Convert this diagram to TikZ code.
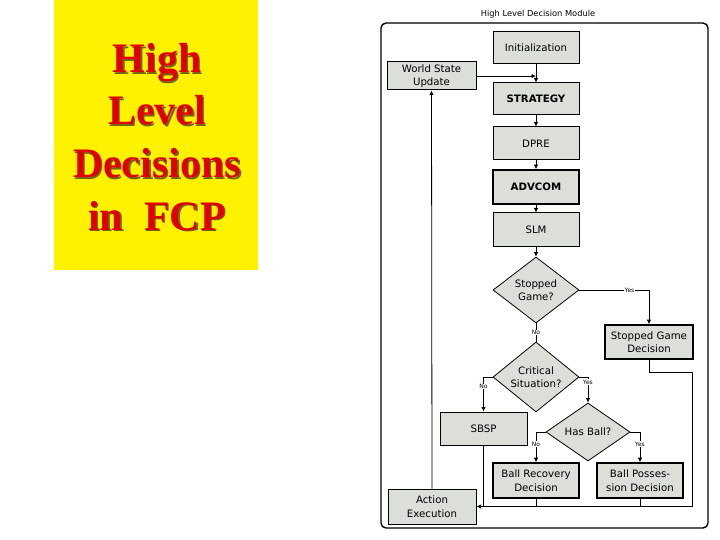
\documentclass[tikz,border=0pt]{standalone}
\usepackage{fontspec}
\usetikzlibrary{arrows.meta,shapes.geometric}
\newfontfamily\djfont{DejaVu Sans}
\newfontfamily\tmsfont{Liberation Serif}
\definecolor{boxgray}{RGB}{220,222,218}
\definecolor{ttlred}{RGB}{225,0,0}
\definecolor{shadowcol}{RGB}{120,100,20}
\tikzset{
  boxnode/.style={draw=black, line width=1pt, fill=boxgray, inner sep=0pt, align=center,
     font=\djfont\fontsize{10.2}{13.5}\selectfont},
  heavybox/.style={boxnode, line width=1.6pt},
  dianode/.style={draw=black, line width=0.8pt, fill=boxgray, shape=diamond, inner sep=0pt},
  diatext/.style={align=center, inner sep=0pt, font=\djfont\fontsize{10.2}{13.5}\selectfont},
  arr/.style={draw=black, line width=0.8pt, -{Latex[length=4.5pt,width=4.5pt]}},
  ln/.style={draw=black, line width=0.8pt},
  yn/.style={fill=white, inner sep=0.5pt, font=\djfont\fontsize{6}{7}\selectfont},
  bigtitle/.style={anchor=base, inner sep=0pt, font=\tmsfont\bfseries\fontsize{42}{50}\selectfont},
}
\begin{document}
\begin{tikzpicture}[x=1pt,y=-1pt]
\useasboundingbox (0,0) rectangle (720,540);
% yellow panel
\fill[yellow] (54,0) rectangle (258,270);
\foreach \t/\yy [count=\i] in {High/73,Level/125,Decisions/178,in\ \ FCP/230}{
  \node[bigtitle, text=shadowcol] at (158.5,\yy+1.5) {\t};
  \node[bigtitle, text=ttlred] (t\i) at (157,\yy) {\t};
}
% module frame
\node[font=\djfont\fontsize{8.3}{9}\selectfont, inner sep=0pt] (mtitle) at (538,14) {High Level Decision Module};
\draw[line width=1.4pt, rounded corners=5pt] (381,23) rectangle (708,528);
% boxes
\node[boxnode, minimum width=86pt, minimum height=32pt] (init) at (536,48) {Initialization};
\node[boxnode, minimum width=89pt, minimum height=28pt] (wsu) at (431.5,76) {World State\\Update};
\node[boxnode, minimum width=86pt, minimum height=32pt, font=\djfont\bfseries\fontsize{10.2}{13.5}\selectfont] (strat) at (536,99) {STRATEGY};
\node[boxnode, minimum width=86pt, minimum height=33pt] (dpre) at (536,143.5) {DPRE};
\node[heavybox, minimum width=86pt, minimum height=34pt, font=\djfont\bfseries\fontsize{10.2}{13.5}\selectfont] (advcom) at (536,187) {ADVCOM};
\node[boxnode, minimum width=86pt, minimum height=33pt] (slm) at (536,229.5) {SLM};
\node[dianode, minimum width=86pt, minimum height=66pt] (sg) at (536,290) {};
\node[diatext] (sgt) at (sg) {Stopped\\Game?};
\node[heavybox, minimum width=88pt, minimum height=34pt] (sgd) at (649,342) {Stopped Game\\Decision};
\node[dianode, minimum width=86pt, minimum height=70pt] (crit) at (536,377) {};
\node[diatext] (critt) at (crit) {Critical\\Situation?};
\node[boxnode, minimum width=87pt, minimum height=33pt] (sbsp) at (483.5,428.5) {SBSP};
\node[dianode, minimum width=84pt, minimum height=58pt] (hb) at (588,432) {};
\node[diatext] (hbt) at (hb) {Has Ball?};
\node[heavybox, minimum width=86pt, minimum height=35pt] (brd) at (536,480.5) {Ball Recovery\\Decision};
\node[heavybox, minimum width=86pt, minimum height=35pt] (bpd) at (640,480.5) {Ball Posses-\\sion Decision};
\node[boxnode, minimum width=88pt, minimum height=35pt] (act) at (432,506.5) {Action\\Execution};
% connectors
\draw[arr] (init.south) -- (strat.north);
\draw[arr] (wsu.east) -- (wsu.east -| init.south);
\draw[arr] (strat.south) -- (dpre.north);
\draw[arr] (dpre.south) -- (advcom.north);
\draw[arr] (advcom.south) -- (slm.north);
\draw[arr] (slm.south) -- (sg.north);
\draw[arr] (sg.east) -| node[yn, pos=0.36] {Yes} (sgd.north);
\draw[ln] (sg.south) -- node[yn] {No} (crit.north);
\draw[arr] (crit.west) -| node[yn, pos=0.64] {No} (sbsp.north);
\draw[arr] (crit.east) -| node[yn, pos=0.6] {Yes} (hb.north);
\draw[arr] (hb.west) -| node[yn, pos=0.7] {No} (brd.north);
\draw[arr] (hb.east) -| node[yn, pos=0.7] {Yes} (bpd.north);
\coordinate (busR) at (692,506.5);
\draw[ln] (sgd.south) -- ++(0,13) -| (busR);
\draw[arr] (busR) -- (act.east);
\draw[ln] (sbsp.south) -- (sbsp.south |- act.east);
\draw[ln] (brd.south) -- (brd.south |- act.east);
\draw[ln] (bpd.south) -- (bpd.south |- act.east);
\draw[arr] (act.north) -- (wsu.south);
\end{tikzpicture}
\end{document}
